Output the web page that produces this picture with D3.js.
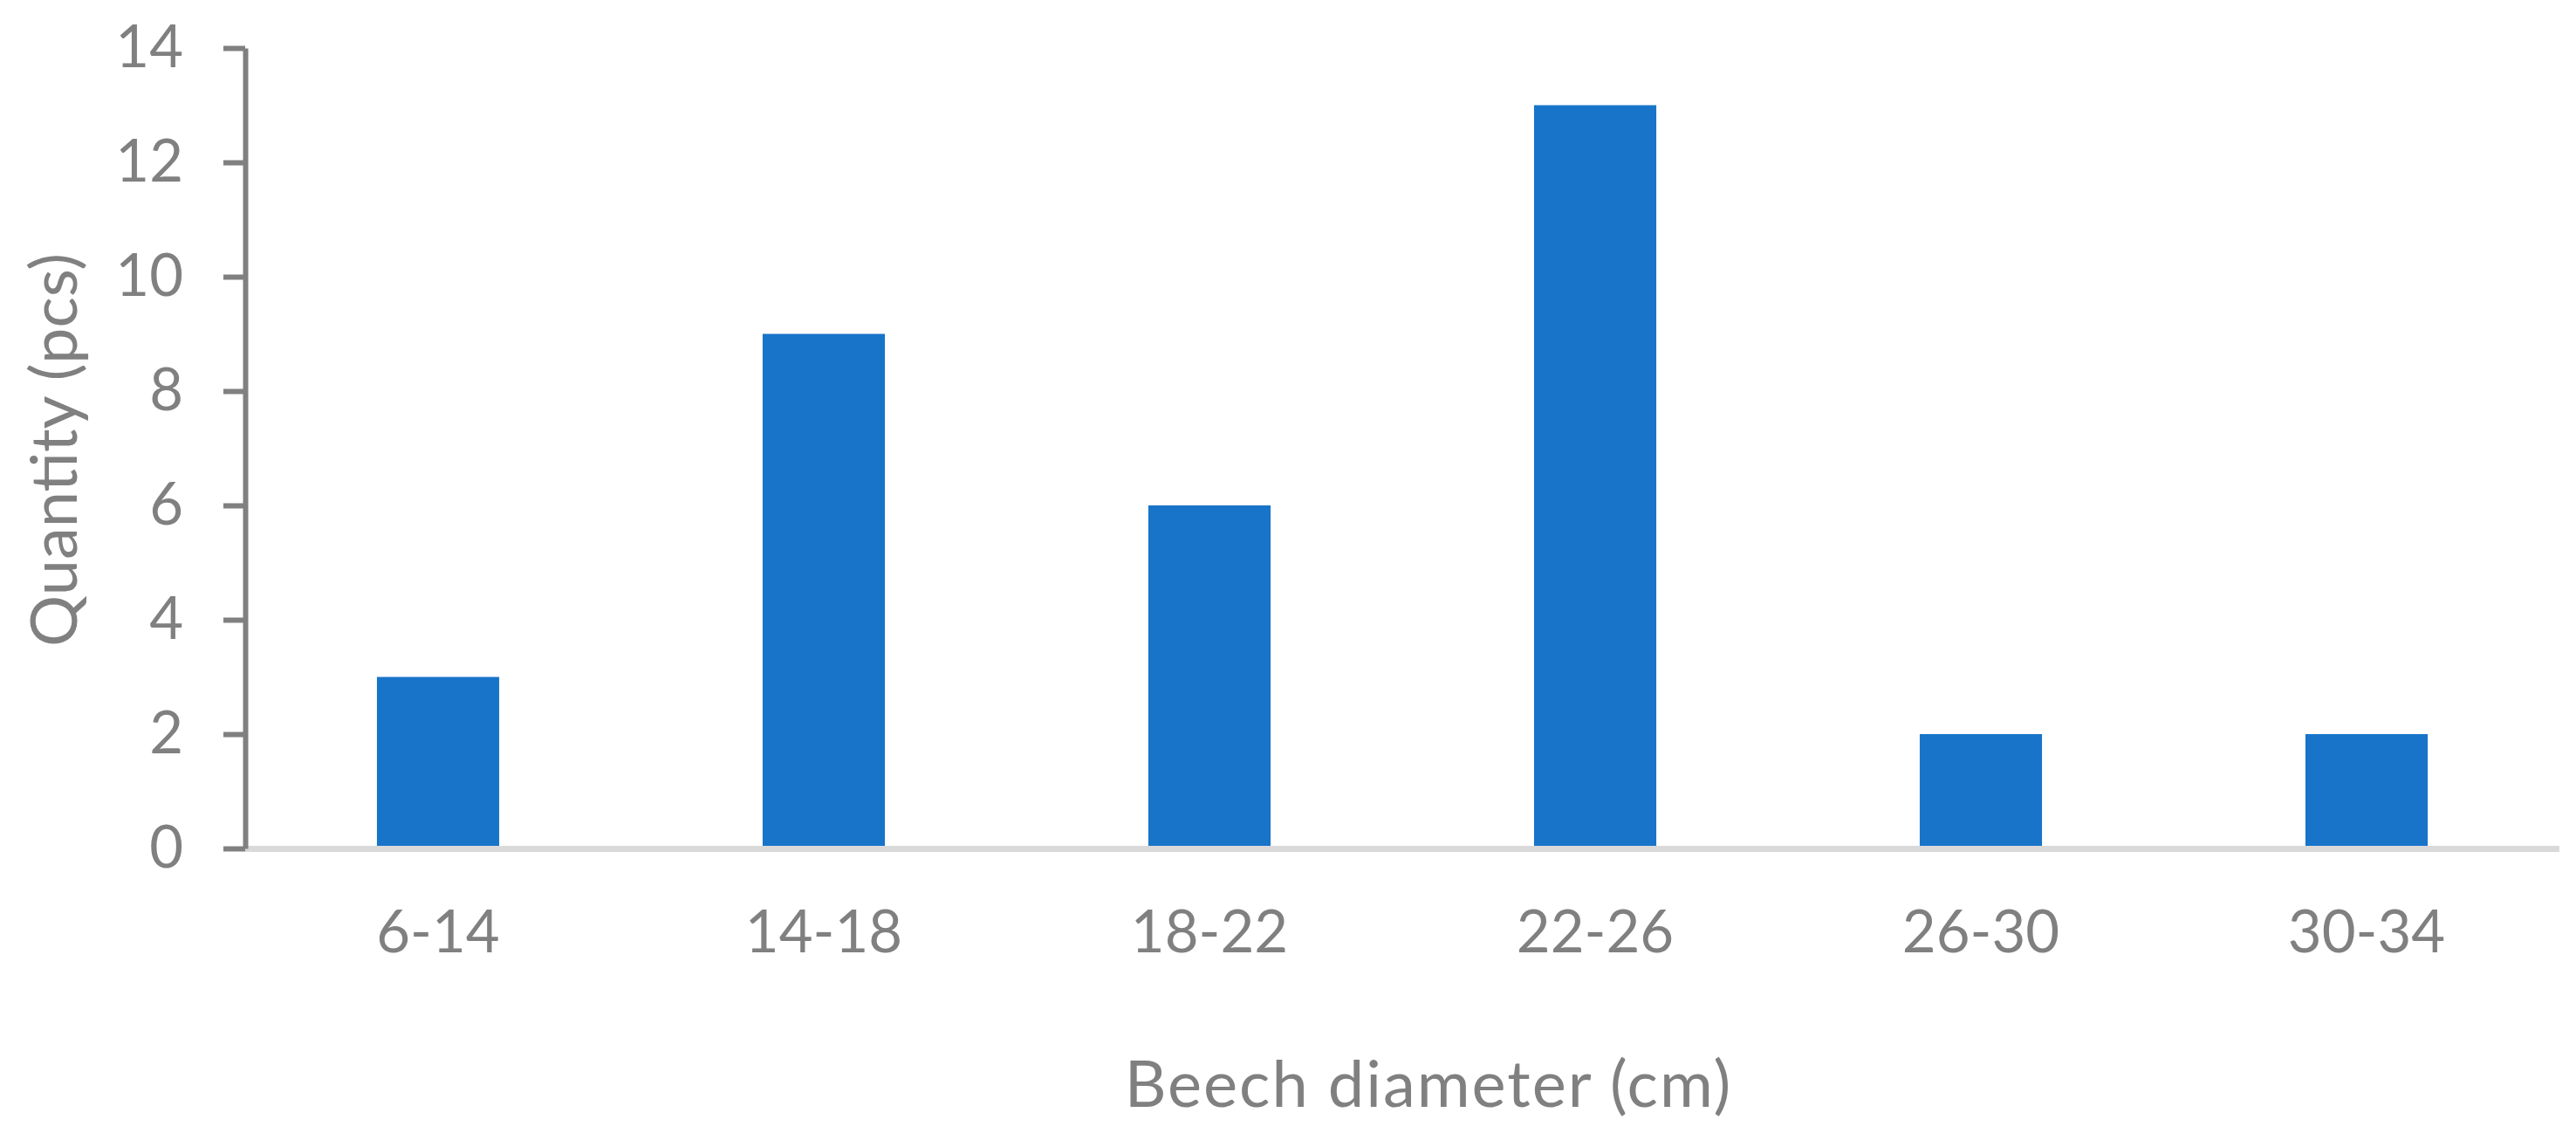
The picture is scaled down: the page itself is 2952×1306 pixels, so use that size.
<!DOCTYPE html>
<html>
<head>
<meta charset="utf-8">
<script src="https://cdn.jsdelivr.net/npm/d3@7"></script>
<style>
  body { margin: 0; background: #fff; }
  text { font-family: Lato, "Open Sans", sans-serif; fill: #808080; }
</style>
</head>
<body>
<div id="chart"></div>
<script>
// data
var categories = ["6-14", "14-18", "18-22", "22-26", "26-30", "30-34"];
var quantities = [3, 9, 6, 13, 2, 2];
var yTicks = [0, 2, 4, 6, 8, 10, 12, 14];
var xTitle = "Beech diameter (cm)";
var yTitle = "Quantity (pcs)";

var width = 2952, height = 1306;
var plotLeft = 281, plotRight = 2933, plotTop = 55, plotBottom = 972;

var svg = d3.select("#chart").append("svg")
    .attr("width", width)
    .attr("height", height);

var x = d3.scaleBand()
    .domain(categories)
    .range([plotLeft, plotRight])
    .paddingInner(0.683)
    .paddingOuter(0.3415);

var y = d3.scaleLinear()
    .domain([0, 14])
    .range([plotBottom, plotTop]);

// bars
svg.append("g").selectAll("rect")
    .data(quantities)
    .enter().append("rect")
    .attr("x", function(d, i){ return x(categories[i]); })
    .attr("y", function(d){ return y(d); })
    .attr("width", x.bandwidth())
    .attr("height", function(d){ return y(0) - y(d); })
    .style("fill", "#1874c9");

// x axis line (light grey)
svg.append("line")
    .attr("x1", plotLeft)
    .attr("x2", plotRight)
    .attr("y1", y(0) + 0.5)
    .attr("y2", y(0) + 0.5)
    .style("stroke", "#d9d9d9")
    .style("stroke-width", 7);

// y axis
var yAxis = svg.append("g")
    .attr("transform", "translate(" + plotLeft + ",0)")
    .call(d3.axisLeft(y).tickValues(yTicks).tickSizeInner(25).tickSizeOuter(0).tickPadding(46));

yAxis.select(".domain")
    .style("stroke", "#808080")
    .style("stroke-width", 6);
yAxis.selectAll(".tick line")
    .style("stroke", "#808080")
    .style("stroke-width", 6);
yAxis.selectAll(".tick text")
    .style("font-size", "67px")
    .style("fill", "#808080")
    .style("font-family", "Lato, 'Open Sans', sans-serif");

// x labels
svg.append("g").selectAll("text")
    .data(categories)
    .enter().append("text")
    .attr("x", function(d){ return x(d) + x.bandwidth() / 2; })
    .attr("y", 1091)
    .style("text-anchor", "middle")
    .style("font-size", "67px")
    .text(function(d){ return d; });

// axis titles
svg.append("text")
    .attr("x", 1637)
    .attr("y", 1268)
    .style("text-anchor", "middle")
    .style("font-size", "74px")
    .style("letter-spacing", "2px")
    .text(xTitle);

svg.append("text")
    .attr("transform", "translate(88," + ((plotTop + plotBottom) / 2 + 2) + ") rotate(-90)")
    .style("text-anchor", "middle")
    .style("font-size", "74px")
    .text(yTitle);
</script>
</body>
</html>
